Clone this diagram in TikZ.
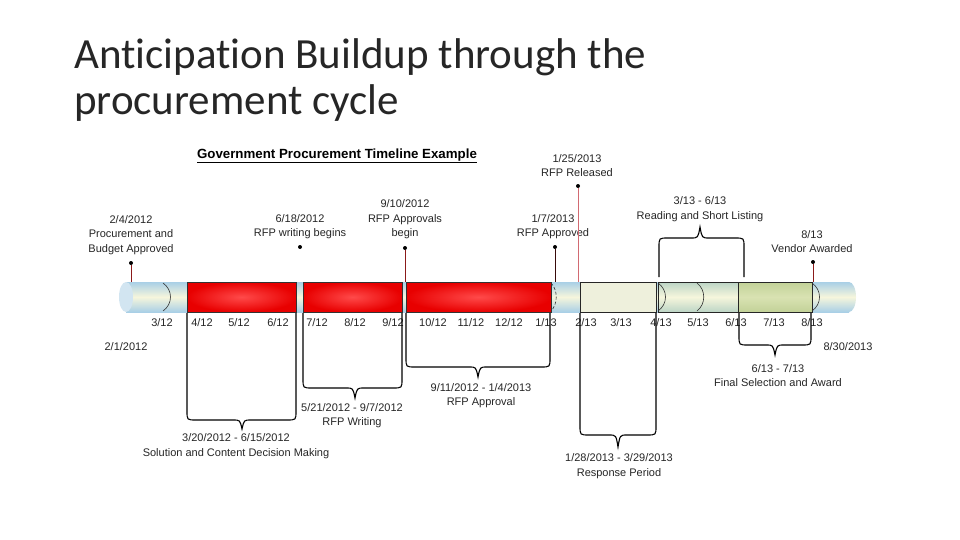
\documentclass[tikz,border=0pt]{standalone}
\usepackage{fontspec}
\setmainfont{Liberation Sans}
\newfontfamily\titlefont[RawFeature={-liga}]{Carlito}
\definecolor{cylblue}{HTML}{A9CFE6}
\definecolor{cylmid}{HTML}{F6F6DC}
\definecolor{capblue}{HTML}{D2E5F1}
\definecolor{redout}{HTML}{E80000}
\definecolor{redin}{HTML}{FF4A4A}
\definecolor{cream}{HTML}{EEF0DC}
\definecolor{greentop}{HTML}{BCD5C6}
\definecolor{olivetop}{HTML}{C2D298}
\definecolor{olivemid}{HTML}{D9E2B2}
\definecolor{evred}{HTML}{8B1A1A}
\definecolor{evpink}{HTML}{D26A72}
\tikzset{
  lbl/.style={font=\fontsize{11}{14.5}\selectfont, align=center, inner sep=0pt, text=black!85},
  ticklbl/.style={font=\fontsize{11}{13}\selectfont, inner sep=0pt, text=black!85},
  bracepath/.style={draw=black, line width=1.1pt},
  evline/.style={draw=evred, line width=0.8pt},
  evdot/.style={circle, fill=black, inner sep=0pt, minimum size=4pt},
  blueseg/.style={top color=cylblue, bottom color=cylblue, middle color=cylmid},
  redblock/.style={draw=black!80, line width=0.6pt, inner color=redin, outer color=redout},
  segarc/.style={draw=black!80, line width=0.6pt},
}
% down brace: x1, x2, ytop, yh, xc, ytip
\newcommand{\downbrace}[6]{%
  \draw[bracepath] (#1,#3) -- (#1,#4-9) .. controls (#1,#4) .. (#1+9,#4)
    -- (#5-9,#4) .. controls (#5-2,#4) .. (#5,#6)
    .. controls (#5+2,#4) .. (#5+9,#4) -- (#2-9,#4)
    .. controls (#2,#4) .. (#2,#4-9) -- (#2,#3);}
\begin{document}
\begin{tikzpicture}[x=1pt,y=-1pt]
\useasboundingbox (0,0) rectangle (960,540);
\fill[white] (0,0) rectangle (960,540);

% slide title
\node[anchor=base west, inner sep=0pt, align=left, text=black!85,
  font=\titlefont\fontsize{43}{46}\selectfont] (title) at (74,115)
  {Anticipation Buildup through the\\procurement cycle};

% diagram title
\node[inner sep=0pt, font=\fontsize{13.3}{15}\selectfont\bfseries] (dtitle) at (337,156)
  {\underline{Government Procurement Timeline Example}};

% cylinder body
\shade[blueseg] (126,282) rectangle (849,312);
\shade[blueseg] (849,297) ellipse [x radius=7, y radius=15];
\fill[capblue] (126,297) ellipse [x radius=7, y radius=15];

% segments
\draw[redblock] (187,282) rectangle (296,312);
\draw[redblock] (303,282) rectangle (402,312);
\draw[redblock] (406,282) rectangle (551,312);
\draw[draw=black!85, line width=0.6pt, fill=cream] (580,282) rectangle (656,312);
\draw[draw=black!85, line width=0.6pt, top color=greentop, bottom color=greentop, middle color=cylmid] (658,282) rectangle (738,312);
\draw[draw=black!85, line width=0.6pt, top color=olivetop, bottom color=olivetop, middle color=olivemid] (738,282) rectangle (812,312);

% cylinder seam arcs
\draw[segarc] (163,283) .. controls (173,290) and (173,304) .. (163,311);
\draw[segarc, densely dashed] (551,283) .. controls (558,290) and (558,304) .. (551,311);
\draw[segarc] (658,283) .. controls (668,290) and (668,304) .. (658,311);
\draw[segarc] (697,283) .. controls (706,290) and (706,304) .. (697,311);
\draw[segarc] (812,283) .. controls (822,290) and (822,304) .. (812,311);

% tick labels
\foreach \x/\t in {162/3\slash12, 202/4\slash12, 239/5\slash12, 278/6\slash12, 317/7\slash12,
  355/8\slash12, 393/9\slash12, 433/10\slash12, 471/11\slash12, 509/12\slash12,
  546/1\slash13, 586/2\slash13, 621/3\slash13, 661/4\slash13, 698/5\slash13,
  736/6\slash13, 774/7\slash13, 812/8\slash13}
  \node[ticklbl] at (\x,323) {\t};

% event markers above
\node[lbl] (e1) at (131,235) {2/4/2012\\Procurement and\\Budget Approved};
\node[evdot] (d1) at (131,263) {};
\coordinate (b1) at (131,282);
\draw[evline] (d1) -- (b1);

\node[lbl] (e2) at (300,226.5) {6/18/2012\\RFP writing begins};
\node[evdot] (d2) at (300,247) {};

\node[lbl] (e3) at (405,219.5) {9/10/2012\\RFP Approvals\\begin};
\node[evdot] (d3) at (405,248) {};
\coordinate (b3) at (405,282);
\draw[evline] (d3) -- (b3);

\node[lbl] (e4) at (553,226.5) {1/7/2013\\RFP Approved};
\node[evdot] (d4) at (555,247) {};
\coordinate (b4) at (555,282);
\draw[evline, draw=black!60!evred] (d4) -- (b4);

\node[lbl] (e5) at (577,165.5) {1/25/2013\\RFP Released};
\node[evdot] (d5) at (578,186) {};
\coordinate (b5) at (578,282);
\draw[evline, draw=evpink] (d5) -- (b5);

\node[lbl] (e6) at (700,209) {3/13 - 6/13\\Reading and Short Listing};

\node[lbl] (e7) at (812,241.5) {8/13\\Vendor Awarded};
\node[evdot] (d7) at (813,262) {};
\coordinate (b7) at (813,282);
\draw[evline] (d7) -- (b7);

% upward brace 3/13 - 6/13
\draw[bracepath] (659,277) -- (659,238+9) .. controls (659,238) .. (659+9,238)
  -- (700-9,238) .. controls (700-2,238) .. (700,227)
  .. controls (700+2,238) .. (700+9,238) -- (744-9,238)
  .. controls (744,238) .. (744,238+9) -- (744,277);

% end dates
\node[lbl] (s) at (126,347) {2/1/2012};
\node[lbl] (f) at (848,347) {8/30/2013};

% downward braces
\downbrace{187}{296}{313}{420}{242}{429}
\node[lbl] (p1) at (236,446) {3/20/2012 - 6/15/2012\\Solution and Content Decision Making};

\downbrace{303}{402}{313}{388}{355}{398}
\node[lbl] (p2) at (352,415.5) {5/21/2012 - 9/7/2012\\RFP Writing};

\downbrace{406}{550}{313}{367}{478}{377}
\node[lbl] (p3) at (481,395.5) {9/11/2012 - 1/4/2013\\RFP Approval};

\downbrace{580}{656}{313}{435}{618}{447}
\node[lbl] (p4) at (619,466) {1/28/2013 - 3/29/2013\\Response Period};

\downbrace{739}{811}{313}{345}{775}{355}
\node[lbl] (p5) at (778,375.5) {6/13 - 7/13\\Final Selection and Award};

\end{tikzpicture}
\end{document}
